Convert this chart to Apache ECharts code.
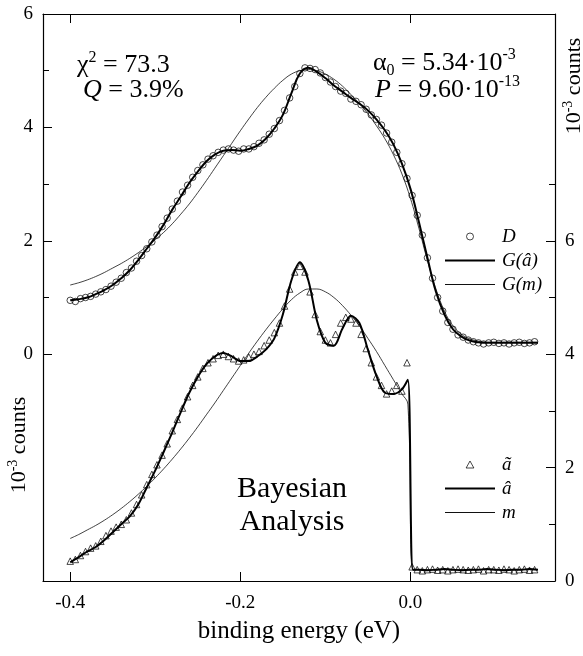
<!DOCTYPE html>
<html>
<head>
<meta charset="utf-8">
<script src="https://cdn.jsdelivr.net/npm/echarts@6/dist/echarts.min.js"></script>
<style>
html, body { margin: 0; padding: 0; background: #fff; }
#chart { width: 583px; height: 656px; }
</style>
</head>
<body>
<div id="chart"></div>
<script>
// marker energies (eV)
var markE = [-0.400,-0.394,-0.388,-0.382,-0.376,-0.370,-0.364,-0.358,-0.352,-0.346,-0.340,-0.334,-0.328,-0.322,-0.316,-0.310,-0.304,-0.298,-0.292,-0.286,-0.280,-0.274,-0.268,-0.262,-0.256,-0.250,-0.244,-0.238,-0.232,-0.226,-0.220,-0.214,-0.208,-0.202,-0.196,-0.190,-0.184,-0.178,-0.172,-0.166,-0.160,-0.154,-0.148,-0.142,-0.136,-0.130,-0.124,-0.118,-0.112,-0.106,-0.100,-0.094,-0.088,-0.082,-0.076,-0.070,-0.064,-0.058,-0.052,-0.046,-0.040,-0.034,-0.028,-0.022,-0.016,-0.010,-0.004,0.002,0.008,0.014,0.020,0.026,0.032,0.038,0.044,0.050,0.056,0.062,0.068,0.074,0.080,0.086,0.092,0.098,0.104,0.110,0.116,0.122,0.128,0.134,0.140,0.146];
// D : measured spectrum (left axis)
var dVals = [0.95,0.93,0.98,1.0,1.02,1.06,1.1,1.14,1.2,1.27,1.34,1.44,1.52,1.64,1.74,1.86,1.98,2.1,2.25,2.4,2.56,2.7,2.86,2.98,3.12,3.24,3.34,3.44,3.5,3.56,3.6,3.62,3.6,3.58,3.62,3.62,3.66,3.72,3.78,3.88,3.98,4.12,4.3,4.52,4.72,4.95,5.05,5.04,5.02,4.96,4.88,4.8,4.72,4.64,4.6,4.5,4.46,4.4,4.32,4.22,4.14,4.04,3.9,3.74,3.56,3.36,3.1,2.8,2.45,2.1,1.7,1.34,1.0,0.76,0.56,0.44,0.34,0.3,0.25,0.22,0.2,0.18,0.2,0.21,0.19,0.2,0.18,0.2,0.21,0.19,0.2,0.22];
// a~ : triangles (right axis)
var aTilde = [0.35,0.38,0.45,0.52,0.58,0.62,0.7,0.8,0.88,0.95,1.0,1.08,1.2,1.35,1.52,1.7,1.88,2.05,2.22,2.42,2.65,2.85,3.05,3.25,3.45,3.6,3.75,3.85,3.92,3.98,4.0,3.96,3.92,3.88,3.9,3.95,4.0,4.05,4.15,4.25,4.38,4.55,4.85,5.15,5.45,5.55,5.45,5.1,4.7,4.4,4.25,4.2,4.35,4.55,4.65,4.62,4.55,4.35,4.1,3.85,3.6,3.45,3.3,3.35,3.45,3.35,3.85,0.25,0.2,0.18,0.2,0.21,0.19,0.2,0.18,0.2,0.21,0.2,0.19,0.2,0.21,0.18,0.2,0.2,0.19,0.21,0.2,0.18,0.2,0.21,0.19,0.2];

// fit energies (eV)
var fitE = [-0.40,-0.39,-0.38,-0.37,-0.36,-0.35,-0.34,-0.33,-0.32,-0.31,-0.30,-0.29,-0.28,-0.27,-0.26,-0.25,-0.24,-0.23,-0.22,-0.21,-0.20,-0.19,-0.18,-0.17,-0.16,-0.15,-0.14,-0.13,-0.12,-0.11,-0.10,-0.09,-0.08,-0.07,-0.06,-0.05,-0.04,-0.03,-0.02,-0.01,0.00,0.01,0.02,0.03,0.04,0.05,0.06,0.07,0.08,0.09,0.10,0.11,0.12,0.13,0.14,0.15];
var gAhat = [0.95,0.97,1.0,1.06,1.13,1.22,1.34,1.48,1.66,1.86,2.06,2.29,2.55,2.78,3.02,3.22,3.4,3.52,3.59,3.6,3.59,3.62,3.68,3.8,3.98,4.22,4.6,4.95,5.05,4.98,4.87,4.74,4.63,4.52,4.42,4.3,4.14,3.95,3.7,3.36,2.92,2.33,1.7,1.1,0.7,0.44,0.31,0.24,0.21,0.2,0.2,0.2,0.2,0.2,0.2,0.2];
var gM = [1.22,1.26,1.31,1.37,1.44,1.52,1.6,1.69,1.79,1.9,2.02,2.15,2.3,2.47,2.65,2.85,3.06,3.28,3.5,3.72,3.94,4.15,4.35,4.53,4.69,4.83,4.94,5.0,5.02,5.0,4.94,4.85,4.73,4.58,4.42,4.24,4.03,3.8,3.52,3.18,2.75,2.22,1.65,1.15,0.76,0.5,0.35,0.27,0.23,0.21,0.21,0.21,0.21,0.21,0.21,0.21];

// lower curves (right axis)
var lowE = [-0.40,-0.39,-0.38,-0.37,-0.36,-0.35,-0.34,-0.33,-0.32,-0.31,-0.30,-0.29,-0.28,-0.27,-0.26,-0.25,-0.24,-0.23,-0.22,-0.21,-0.20,-0.19,-0.18,-0.17,-0.16,-0.15,-0.14,-0.13,-0.12,-0.11,-0.10,-0.09,-0.08,-0.07,-0.06,-0.05,-0.04,-0.03,-0.02,-0.01,-0.003,0.003,0.01,0.02,0.03,0.04,0.05,0.06,0.07,0.08,0.09,0.10,0.11,0.12,0.13,0.14,0.15];
var aHat = [0.33,0.42,0.52,0.6,0.72,0.86,1.0,1.14,1.35,1.65,1.95,2.28,2.62,2.98,3.32,3.6,3.82,3.96,4.02,3.96,3.88,3.88,3.96,4.08,4.28,4.7,5.3,5.62,5.3,4.6,4.2,4.15,4.45,4.68,4.55,4.08,3.62,3.32,3.3,3.38,3.55,0.2,0.2,0.19,0.2,0.21,0.2,0.19,0.2,0.2,0.21,0.2,0.19,0.2,0.2,0.21,0.2];
var mDef = [0.75,0.82,0.9,0.98,1.07,1.17,1.28,1.4,1.53,1.67,1.82,1.98,2.15,2.33,2.52,2.72,2.93,3.14,3.36,3.58,3.8,4.02,4.23,4.43,4.62,4.8,4.96,5.08,5.15,5.15,5.1,5.0,4.86,4.69,4.5,4.28,4.05,3.8,3.55,3.3,3.12,0.2,0.2,0.2,0.2,0.2,0.2,0.2,0.2,0.2,0.2,0.2,0.2,0.2,0.2,0.2,0.2];

var xTicks = [-0.4, -0.2, 0.0];
var leftTicks = [0, 2, 4, 6];
var leftMinor = [1, 3, 5];
var rightTicks = [0, 2, 4, 6];
var rightMinor = [1, 3, 5, 7];

var FONT = 'Liberation Serif';

function pairs(xs, ys) {
    var out = [];
    for (var i = 0; i < xs.length; i++) out.push([xs[i], ys[i]]);
    return out;
}

var chart = echarts.init(document.getElementById('chart'));

var tickLabel = { fontFamily: FONT, fontSize: 19, color: '#000' };
var frameLine = { show: true, onZero: false, lineStyle: { color: '#000', width: 1.2 } };
var noLine = { show: false, onZero: false };
var legendText = { fontFamily: FONT, fontStyle: 'italic', fontSize: 19, color: '#000', padding: [0, 0, 0, 2] };
var hollow = { color: 'rgba(255,255,255,0)', borderColor: '#000', borderWidth: 0.9 };
var thickIcon = 'path://M0,0H100V4H0Z';
var thinIcon = 'path://M0,0H100V1.6H0Z';

var option = {
    backgroundColor: '#fff',
    animation: false,
    grid: { left: 43, right: 28, top: 14, bottom: 75 },
    xAxis: [
        {
            type: 'value', position: 'bottom', min: -0.432, max: 0.17,
            axisLine: frameLine,
            axisTick: { show: true, inside: true, length: 9, customValues: xTicks, lineStyle: { color: '#000' } },
            axisLabel: Object.assign({ customValues: xTicks, margin: 13, formatter: function (v) { return v.toFixed(1); } }, tickLabel),
            splitLine: { show: false },
            name: 'binding energy (eV)', nameLocation: 'middle', nameGap: 38,
            nameTextStyle: { fontFamily: FONT, fontSize: 25, color: '#000' }
        },
        {
            type: 'value', position: 'top', min: -0.432, max: 0.17,
            axisLine: frameLine,
            axisTick: { show: true, inside: true, length: 9, customValues: xTicks, lineStyle: { color: '#000' } },
            axisLabel: { show: false },
            splitLine: { show: false }
        }
    ],
    yAxis: [
        {
            type: 'value', position: 'left', min: -4, max: 6,
            axisLine: frameLine,
            axisTick: { show: true, inside: true, length: 9, customValues: leftTicks, lineStyle: { color: '#000' } },
            axisLabel: Object.assign({ customValues: leftTicks, margin: 10 }, tickLabel),
            splitLine: { show: false }
        },
        {
            type: 'value', position: 'right', min: 0, max: 10,
            axisLine: frameLine,
            axisTick: { show: true, inside: true, length: 9, customValues: rightTicks, lineStyle: { color: '#000' } },
            axisLabel: Object.assign({ customValues: rightTicks, margin: 10 }, tickLabel),
            splitLine: { show: false }
        },
        {
            type: 'value', position: 'left', min: -4, max: 6,
            axisLine: noLine,
            axisTick: { show: true, inside: true, length: 6, customValues: leftMinor, lineStyle: { color: '#000' } },
            axisLabel: { show: false },
            splitLine: { show: false }
        },
        {
            type: 'value', position: 'right', min: 0, max: 10,
            axisLine: noLine,
            axisTick: { show: true, inside: true, length: 6, customValues: rightMinor, lineStyle: { color: '#000' } },
            axisLabel: { show: false },
            splitLine: { show: false }
        }
    ],
    legend: [
        {
            orient: 'vertical', left: 440, top: 222, itemWidth: 50, itemHeight: 7, itemGap: 5,
            selectedMode: false,
            data: [
                { name: 'D', icon: 'circle', itemStyle: hollow },
                { name: 'G(â)', icon: thickIcon },
                { name: 'G(m)', icon: thinIcon }
            ],
            textStyle: legendText
        },
        {
            orient: 'vertical', left: 440, top: 450, itemWidth: 50, itemHeight: 7, itemGap: 5,
            selectedMode: false,
            data: [
                { name: 'ã', icon: 'path://M5,0L10,9L0,9Z', itemStyle: hollow },
                { name: 'â', icon: thickIcon },
                { name: 'm', icon: thinIcon }
            ],
            textStyle: legendText
        }
    ],
    series: [
        {
            name: 'G(m)', type: 'line', xAxisIndex: 0, yAxisIndex: 0,
            data: pairs(fitE, gM), smooth: 0.4, symbol: 'none',
            lineStyle: { color: '#111', width: 0.8 }, itemStyle: { color: '#111' }
        },
        {
            name: 'G(â)', type: 'line', xAxisIndex: 0, yAxisIndex: 0,
            data: pairs(fitE, gAhat), smooth: 0.4, symbol: 'none',
            lineStyle: { color: '#000', width: 2 }, itemStyle: { color: '#000' }
        },
        {
            name: 'D', type: 'scatter', xAxisIndex: 0, yAxisIndex: 0,
            data: pairs(markE, dVals), symbol: 'circle', symbolSize: 6.5,
            itemStyle: hollow
        },
        {
            name: 'm', type: 'line', xAxisIndex: 0, yAxisIndex: 1,
            data: pairs(lowE, mDef), smooth: 0.4, symbol: 'none',
            lineStyle: { color: '#111', width: 0.8 }, itemStyle: { color: '#111' }
        },
        {
            name: 'â', type: 'line', xAxisIndex: 0, yAxisIndex: 1,
            data: pairs(lowE, aHat), smooth: 0.3, symbol: 'none',
            lineStyle: { color: '#000', width: 2 }, itemStyle: { color: '#000' }
        },
        {
            name: 'ã', type: 'scatter', xAxisIndex: 0, yAxisIndex: 1,
            data: pairs(markE, aTilde), symbol: 'triangle', symbolSize: 6.5,
            itemStyle: hollow
        }
    ],
    graphic: [
        {
            type: 'text', left: 77, top: 50,
            style: {
                text: '{a|χ}{s|2}{a| = 73.3}',
                rich: {
                    a: { fontFamily: FONT, fontSize: 26, fill: '#000', lineHeight: 30 },
                    s: { fontFamily: FONT, fontSize: 16, fill: '#000', verticalAlign: 'top', lineHeight: 30 }
                }
            }
        },
        {
            type: 'text', left: 83, top: 77,
            style: {
                text: '{i|Q}{a| = 3.9%}',
                rich: {
                    i: { fontFamily: FONT, fontSize: 26, fontStyle: 'italic', fill: '#000', lineHeight: 30 },
                    a: { fontFamily: FONT, fontSize: 26, fill: '#000', lineHeight: 30 }
                }
            }
        },
        {
            type: 'text', left: 373, top: 47,
            style: {
                text: '{a|α}{b|0}{a| = 5.34·10}{s|-3}',
                rich: {
                    a: { fontFamily: FONT, fontSize: 26, fill: '#000', lineHeight: 32 },
                    b: { fontFamily: FONT, fontSize: 16, fill: '#000', verticalAlign: 'bottom', lineHeight: 32 },
                    s: { fontFamily: FONT, fontSize: 16, fill: '#000', verticalAlign: 'top', lineHeight: 32 }
                }
            }
        },
        {
            type: 'text', left: 375, top: 74,
            style: {
                text: '{i|P}{a| = 9.60·10}{s|-13}',
                rich: {
                    i: { fontFamily: FONT, fontSize: 26, fontStyle: 'italic', fill: '#000', lineHeight: 32 },
                    a: { fontFamily: FONT, fontSize: 26, fill: '#000', lineHeight: 32 },
                    s: { fontFamily: FONT, fontSize: 16, fill: '#000', verticalAlign: 'top', lineHeight: 32 }
                }
            }
        },
        {
            type: 'text', x: 292, y: 506,
            style: {
                text: 'Bayesian\nAnalysis', fontFamily: FONT, fontSize: 30, fill: '#000',
                align: 'center', verticalAlign: 'middle', lineHeight: 33
            }
        },
        {
            type: 'text', x: 19, y: 445, rotation: Math.PI / 2,
            style: {
                text: '{a|10}{s|-3}{a| counts}',
                align: 'center', verticalAlign: 'middle',
                rich: {
                    a: { fontFamily: FONT, fontSize: 22, fill: '#000', lineHeight: 26 },
                    s: { fontFamily: FONT, fontSize: 14, fill: '#000', verticalAlign: 'top', lineHeight: 26 }
                }
            }
        },
        {
            type: 'text', x: 574, y: 86, rotation: Math.PI / 2,
            style: {
                text: '{a|10}{s|-3}{a| counts}',
                align: 'center', verticalAlign: 'middle',
                rich: {
                    a: { fontFamily: FONT, fontSize: 22, fill: '#000', lineHeight: 26 },
                    s: { fontFamily: FONT, fontSize: 14, fill: '#000', verticalAlign: 'top', lineHeight: 26 }
                }
            }
        }
    ]
};

chart.setOption(option);
</script>
</body>
</html>
